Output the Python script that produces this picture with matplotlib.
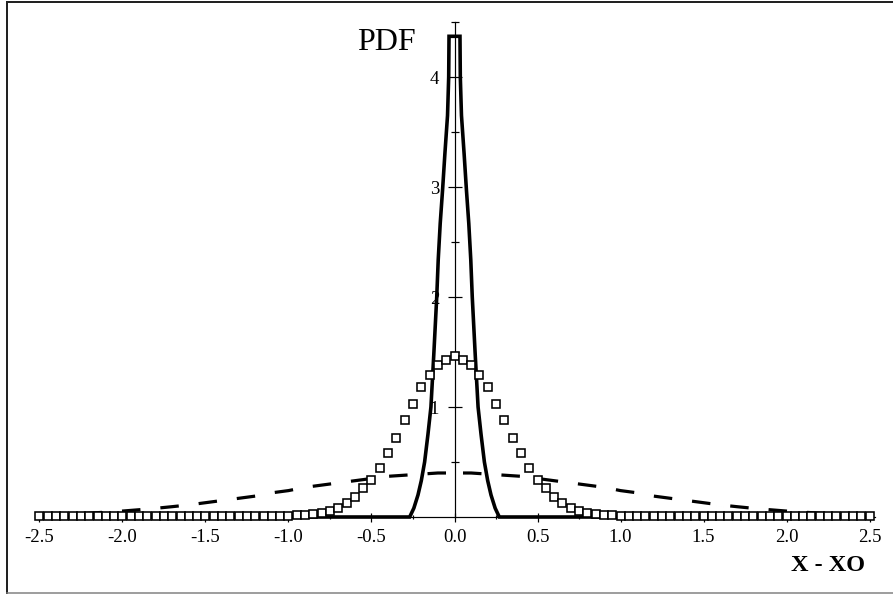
import numpy as np
import matplotlib
matplotlib.use('Agg')
import matplotlib.pyplot as plt
from matplotlib.lines import Line2D

plt.rcParams['font.family'] = ['Liberation Serif', 'DejaVu Serif']
plt.rcParams['lines.scale_dashes'] = False

# solid curve (sharp peak)
solid_x = [-2.5, -0.27, -0.245, -0.22, -0.2, -0.18, -0.16, -0.142, -0.125, -0.107,
           -0.098, -0.086, -0.072, -0.058, -0.042, -0.035, -0.033, 0.0,
           0.033, 0.035, 0.042, 0.058, 0.072, 0.086, 0.098, 0.107, 0.125,
           0.142, 0.16, 0.18, 0.2, 0.22, 0.245, 0.27, 2.5]
solid_y = [0.0, 0.0, 0.08, 0.2, 0.33, 0.5, 0.75, 1.0, 1.47, 2.0,
           2.34, 2.67, 2.97, 3.3, 3.65, 4.0, 4.37, 4.37,
           4.37, 4.0, 3.65, 3.3, 2.97, 2.67, 2.34, 2.0, 1.47,
           1.0, 0.75, 0.5, 0.33, 0.2, 0.08, 0.0, 0.0]

# square markers, every 0.05
square_x = np.round(np.arange(-2.5, 2.5001, 0.05), 2)
square_y = [0.01, 0.01, 0.01, 0.01, 0.01, 0.01, 0.01, 0.01, 0.01, 0.01,
            0.01, 0.01, 0.01, 0.01, 0.01, 0.01, 0.01, 0.01, 0.01, 0.01,
            0.01, 0.01, 0.01, 0.01, 0.01, 0.01, 0.01, 0.01, 0.01, 0.01,
            0.01, 0.015, 0.02, 0.03, 0.04, 0.055, 0.08, 0.125, 0.185, 0.26,
            0.34, 0.45, 0.58, 0.72, 0.88, 1.03, 1.18, 1.29, 1.38, 1.43,
            1.46,
            1.43, 1.38, 1.29, 1.18, 1.03, 0.88, 0.72, 0.58, 0.45, 0.34,
            0.26, 0.185, 0.125, 0.08, 0.055, 0.04, 0.03, 0.02, 0.015, 0.01,
            0.01, 0.01, 0.01, 0.01, 0.01, 0.01, 0.01, 0.01, 0.01, 0.01,
            0.01, 0.01, 0.01, 0.01, 0.01, 0.01, 0.01, 0.01, 0.01, 0.01,
            0.01, 0.01, 0.01, 0.01, 0.01, 0.01, 0.01, 0.01, 0.01, 0.01]

# dashed curve (broad), every 0.1
dash_x = np.round(np.arange(-2.5, 2.5001, 0.1), 1)
dash_y = [0.018, 0.022, 0.028, 0.035, 0.044, 0.054, 0.066, 0.079, 0.094, 0.11,
          0.13, 0.15, 0.17, 0.19, 0.22, 0.24, 0.27, 0.29, 0.31, 0.33,
          0.35, 0.37, 0.38, 0.39, 0.40, 0.40,
          0.40, 0.39, 0.38, 0.37, 0.35, 0.33, 0.31, 0.29, 0.27, 0.24,
          0.22, 0.19, 0.17, 0.15, 0.13, 0.11, 0.094, 0.079, 0.066, 0.054,
          0.044, 0.035, 0.028, 0.022, 0.018]

xtick_vals = [-2.5, -2.0, -1.5, -1.0, -0.5, 0.0, 0.5, 1.0, 1.5, 2.0, 2.5]
xtick_labels = ['-2.5', '-2.0', '-1.5', '-1.0', '-0.5', '0.0', '0.5', '1.0', '1.5', '2.0', '2.5']
ytick_vals = [1, 2, 3, 4]
ytick_labels = ['1', '2', '3', '4']

px = 0.72  # points per pixel at dpi 100

fig = plt.figure(figsize=(8.93, 5.96), dpi=100)
ax = fig.add_axes([34.5 / 893, 79 / 596, 840 / 893, 495 / 596])
ax.set_xlim(-2.53, 2.53)
ax.set_ylim(0, 4.5)

for s in ['top', 'right']:
    ax.spines[s].set_visible(False)
ax.spines['left'].set_position(('data', 0))
ax.spines['bottom'].set_position(('data', 0))
for s in ['left', 'bottom']:
    ax.spines[s].set_linewidth(1.2 * px)

ax.set_xticks(xtick_vals)
ax.set_xticklabels(xtick_labels)
ax.set_xticks([-2.25, -1.75, -1.25, -0.75, -0.25, 0.25, 0.75, 1.25, 1.75, 2.25], minor=True)
ax.set_yticks(ytick_vals)
ax.set_yticklabels(ytick_labels)
ax.set_yticks([0.5, 1.5, 2.5, 3.5, 4.5], minor=True)

ax.tick_params(axis='x', which='major', direction='inout', length=9 * px, width=1.2 * px,
               labelsize=13.5, pad=5.4)
ax.tick_params(axis='x', which='minor', direction='inout', length=5 * px, width=1.2 * px)
ax.tick_params(axis='y', which='major', direction='inout', length=14 * px, width=1.2 * px,
               labelsize=13.5, pad=6.1)
ax.tick_params(axis='y', which='minor', direction='inout', length=8 * px, width=1.2 * px)

ax.plot(solid_x, solid_y, color='black', lw=3.6 * px, zorder=4, clip_on=False,
        solid_joinstyle='miter')

ax.plot(square_x, square_y, linestyle='none', marker='s', markersize=7.2 * px,
        markerfacecolor='white', markeredgecolor='black', markeredgewidth=1.6 * px,
        zorder=5, clip_on=False)

# dashed curve drawn from the centre outwards so the dash pattern is symmetric
mid = len(dash_x) // 2
dash_style = (30 * px, (18.5 * px, 20 * px))
ax.plot(dash_x[mid:], dash_y[mid:], color='black', lw=3.2 * px, linestyle=dash_style,
        dash_capstyle='butt', zorder=3, clip_on=False)
ax.plot(dash_x[:mid + 1][::-1], dash_y[:mid + 1][::-1], color='black', lw=3.2 * px,
        linestyle=dash_style, dash_capstyle='butt', zorder=3, clip_on=False)

fig.text(416 / 893, 1 - 50 / 596, 'PDF', fontsize=23, ha='right', va='baseline')
fig.text(865 / 893, 1 - 571 / 596, 'X - XO', fontsize=17.5, fontweight='bold',
         ha='right', va='baseline')

# picture frame
fig.add_artist(Line2D([7 / 893, 7 / 893], [1 - 2 / 596, 1 - 593 / 596],
                      transform=fig.transFigure, color='#222222', lw=2 * px))
fig.add_artist(Line2D([7 / 893, 1], [1 - 2 / 596, 1 - 2 / 596],
                      transform=fig.transFigure, color='#222222', lw=2 * px))
fig.add_artist(Line2D([7 / 893, 1], [1 - 593 / 596, 1 - 593 / 596],
                      transform=fig.transFigure, color='#808080', lw=1.5 * px))

fig.savefig('out.png', dpi=100)
